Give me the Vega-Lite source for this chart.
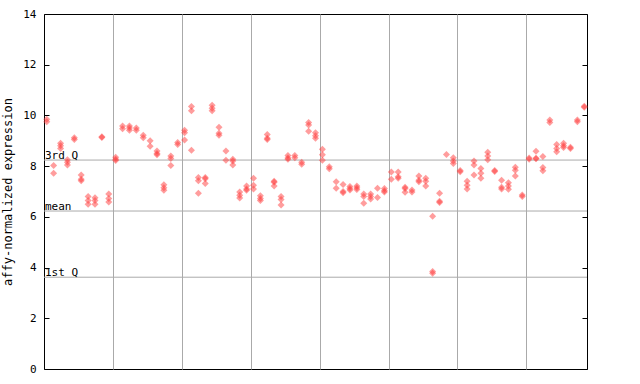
{
  "$schema": "https://vega.github.io/schema/vega-lite/v6.json",
  "autosize": {"type": "none"},
  "padding": {"left": 44, "top": 14, "right": 52, "bottom": 15},
  "width": 543,
  "height": 355,
  "background": "white",
  "config": {"view": {"stroke": "black", "strokeWidth": 1}, "font": "DejaVu Sans Mono"},
  "resolve": {"axis": {"y": "independent"}},
  "layer": [
    {
      "data": {"values": [
        {"y": 8.24, "label": "3rd Q"},
        {"y": 6.23, "label": "mean"},
        {"y": 3.62, "label": "1st Q"}
      ]},
      "mark": {"type": "rule", "color": "#aaaaaa", "strokeWidth": 1},
      "encoding": {
        "y": {"field": "y", "type": "quantitative", "scale": {"domain": [0, 14]},
          "axis": {"orient": "right", "values": [0, 2, 4, 6, 8, 10, 12, 14], "labels": false, "tickSize": -5, "tickColor": "black", "domain": false, "grid": false, "title": null}}
      }
    },
    {
      "data": {"values": [
        {"y": 8.24, "label": "3rd Q"},
        {"y": 6.23, "label": "mean"},
        {"y": 3.62, "label": "1st Q"}
      ]},
      "mark": {"type": "text", "align": "left", "baseline": "bottom", "dx": 1, "dy": 1, "fontSize": 11, "font": "DejaVu Sans Mono", "color": "black"},
      "encoding": {
        "x": {"datum": -0.4, "type": "quantitative",
          "axis": {"values": [9.6, 19.6, 29.6, 39.6, 49.6, 59.6, 69.6], "grid": true, "gridColor": "#aaaaaa", "gridOpacity": 1, "gridWidth": 1, "ticks": false, "labels": false, "domain": false, "title": null}},
        "y": {"field": "y", "type": "quantitative", "axis": null},
        "text": {"field": "label"}
      }
    },
    {
      "data": {"values": [
        {"k":0,"v":9.85},{"k":0,"v":9.75},
        {"k":1,"v":8.03},{"k":1,"v":7.72},
        {"k":2,"v":8.9},{"k":2,"v":8.8},{"k":2,"v":8.7},
        {"k":3,"v":8.25},{"k":3,"v":8.15},{"k":3,"v":8.05},
        {"k":4,"v":9.12},{"k":4,"v":9.05},
        {"k":5,"v":7.65},{"k":5,"v":7.48},{"k":5,"v":7.42},
        {"k":6,"v":6.8},{"k":6,"v":6.65},{"k":6,"v":6.5},
        {"k":7,"v":6.75},{"k":7,"v":6.65},{"k":7,"v":6.5},
        {"k":8,"v":9.16},{"k":8,"v":9.13},
        {"k":9,"v":6.9},{"k":9,"v":6.72},{"k":9,"v":6.59},
        {"k":10,"v":8.35},{"k":10,"v":8.27},{"k":10,"v":8.22},
        {"k":11,"v":9.58},{"k":11,"v":9.47},
        {"k":12,"v":9.58},{"k":12,"v":9.5},{"k":12,"v":9.42},
        {"k":13,"v":9.5},{"k":13,"v":9.42},
        {"k":14,"v":9.22},{"k":14,"v":9.12},
        {"k":15,"v":9.0},{"k":15,"v":8.78},
        {"k":16,"v":8.6},{"k":16,"v":8.5},{"k":16,"v":8.45},
        {"k":17,"v":7.27},{"k":17,"v":7.15},{"k":17,"v":7.05},
        {"k":18,"v":8.4},{"k":18,"v":8.3},{"k":18,"v":8.03},
        {"k":19,"v":8.93},{"k":19,"v":8.85},
        {"k":20,"v":9.42},{"k":20,"v":9.32},{"k":20,"v":9.03},
        {"k":21,"v":10.35},{"k":21,"v":10.18},{"k":21,"v":8.63},
        {"k":22,"v":7.55},{"k":22,"v":7.42},{"k":22,"v":6.93},
        {"k":23,"v":7.55},{"k":23,"v":7.5},{"k":23,"v":7.32},
        {"k":24,"v":10.4},{"k":24,"v":10.28},{"k":24,"v":10.18},
        {"k":25,"v":9.53},{"k":25,"v":9.3},{"k":25,"v":9.22},
        {"k":26,"v":8.6},{"k":26,"v":8.23},
        {"k":27,"v":8.27},{"k":27,"v":8.2},{"k":27,"v":8.05},
        {"k":28,"v":6.98},{"k":28,"v":6.85},{"k":28,"v":6.74},
        {"k":29,"v":7.22},{"k":29,"v":7.1},{"k":29,"v":7.05},
        {"k":30,"v":7.52},{"k":30,"v":7.25},{"k":30,"v":7.1},
        {"k":31,"v":6.83},{"k":31,"v":6.72},{"k":31,"v":6.65},
        {"k":32,"v":9.25},{"k":32,"v":9.1},{"k":32,"v":9.05},
        {"k":33,"v":7.4},{"k":33,"v":7.36},{"k":33,"v":7.22},
        {"k":34,"v":6.8},{"k":34,"v":6.68},{"k":34,"v":6.47},
        {"k":35,"v":8.42},{"k":35,"v":8.32},{"k":35,"v":8.27},
        {"k":36,"v":8.42},{"k":36,"v":8.33},
        {"k":37,"v":8.15},{"k":37,"v":8.07},
        {"k":38,"v":9.72},{"k":38,"v":9.62},{"k":38,"v":9.38},
        {"k":39,"v":9.32},{"k":39,"v":9.2},{"k":39,"v":9.1},
        {"k":40,"v":8.67},{"k":40,"v":8.45},{"k":40,"v":8.23},
        {"k":41,"v":7.98},{"k":41,"v":7.9},
        {"k":42,"v":7.38},{"k":42,"v":7.13},
        {"k":43,"v":7.28},{"k":43,"v":7.0},{"k":43,"v":6.95},
        {"k":44,"v":7.2},{"k":44,"v":7.12},{"k":44,"v":7.06},
        {"k":45,"v":7.22},{"k":45,"v":7.15},{"k":45,"v":7.08},
        {"k":46,"v":6.9},{"k":46,"v":6.8},{"k":46,"v":6.54},
        {"k":47,"v":6.9},{"k":47,"v":6.8},{"k":47,"v":6.7},
        {"k":48,"v":7.13},{"k":48,"v":6.76},
        {"k":49,"v":7.12},{"k":49,"v":7.03},{"k":49,"v":6.98},
        {"k":50,"v":7.77},{"k":50,"v":7.48},
        {"k":51,"v":7.77},{"k":51,"v":7.58},{"k":51,"v":7.52},
        {"k":52,"v":7.17},{"k":52,"v":7.12},{"k":52,"v":6.97},
        {"k":53,"v":7.06},{"k":53,"v":6.98},
        {"k":54,"v":7.61},{"k":54,"v":7.44},{"k":54,"v":7.38},
        {"k":55,"v":7.52},{"k":55,"v":7.4},{"k":55,"v":7.22},
        {"k":56,"v":6.02},{"k":56,"v":3.85},{"k":56,"v":3.78},
        {"k":57,"v":6.93},{"k":57,"v":6.62},{"k":57,"v":6.57},
        {"k":58,"v":8.46},
        {"k":59,"v":8.33},{"k":59,"v":8.2},{"k":59,"v":8.1},
        {"k":60,"v":7.83},{"k":60,"v":7.78},
        {"k":61,"v":7.4},{"k":61,"v":7.25},{"k":61,"v":7.1},
        {"k":62,"v":8.2},{"k":62,"v":8.05},{"k":62,"v":7.65},
        {"k":63,"v":7.91},{"k":63,"v":7.72},{"k":63,"v":7.52},
        {"k":64,"v":8.55},{"k":64,"v":8.4},{"k":64,"v":8.25},
        {"k":65,"v":7.83},{"k":65,"v":7.79},
        {"k":66,"v":7.44},{"k":66,"v":7.17},{"k":66,"v":7.1},
        {"k":67,"v":7.35},{"k":67,"v":7.22},{"k":67,"v":7.09},
        {"k":68,"v":7.96},{"k":68,"v":7.84},{"k":68,"v":7.61},
        {"k":69,"v":6.86},{"k":69,"v":6.8},
        {"k":70,"v":8.32},{"k":70,"v":8.27},
        {"k":71,"v":8.59},{"k":71,"v":8.31},{"k":71,"v":8.29},
        {"k":72,"v":8.38},{"k":72,"v":7.95},{"k":72,"v":7.82},
        {"k":73,"v":9.82},{"k":73,"v":9.72},
        {"k":74,"v":8.85},{"k":74,"v":8.7},{"k":74,"v":8.57},
        {"k":75,"v":8.9},{"k":75,"v":8.8},{"k":75,"v":8.74},
        {"k":76,"v":8.75},{"k":76,"v":8.7},
        {"k":77,"v":9.82},{"k":77,"v":9.75},
        {"k":78,"v":10.36},{"k":78,"v":10.32}
      ]},
      "mark": {"type": "point", "shape": "diamond", "filled": true, "color": "#ff3c3c", "opacity": 0.5, "size": 49, "strokeWidth": 0},
      "encoding": {
        "x": {"field": "k", "type": "quantitative", "scale": {"domain": [-0.4, 78.4], "nice": false, "zero": false},
          "axis": {"values": [9.6, 19.6, 29.6, 39.6, 49.6, 59.6, 69.6], "grid": true, "gridColor": "#aaaaaa", "gridOpacity": 1, "gridWidth": 1, "ticks": false, "labels": false, "domain": false, "title": null}},
        "y": {"field": "v", "type": "quantitative", "scale": {"domain": [0, 14], "nice": false},
          "axis": {"orient": "left", "values": [0, 2, 4, 6, 8, 10, 12, 14], "tickSize": -5, "tickColor": "black", "domain": false, "grid": false,
            "labelFont": "DejaVu Sans Mono", "labelFontSize": 11, "labelColor": "black", "labelPadding": 13, "labelFlush": false,
            "title": "affy-normalized expression", "titleFont": "DejaVu Sans Mono", "titleFontSize": 12, "titleFontWeight": "normal", "titleColor": "black", "titlePadding": 8}}
      }
    }
  ]
}
